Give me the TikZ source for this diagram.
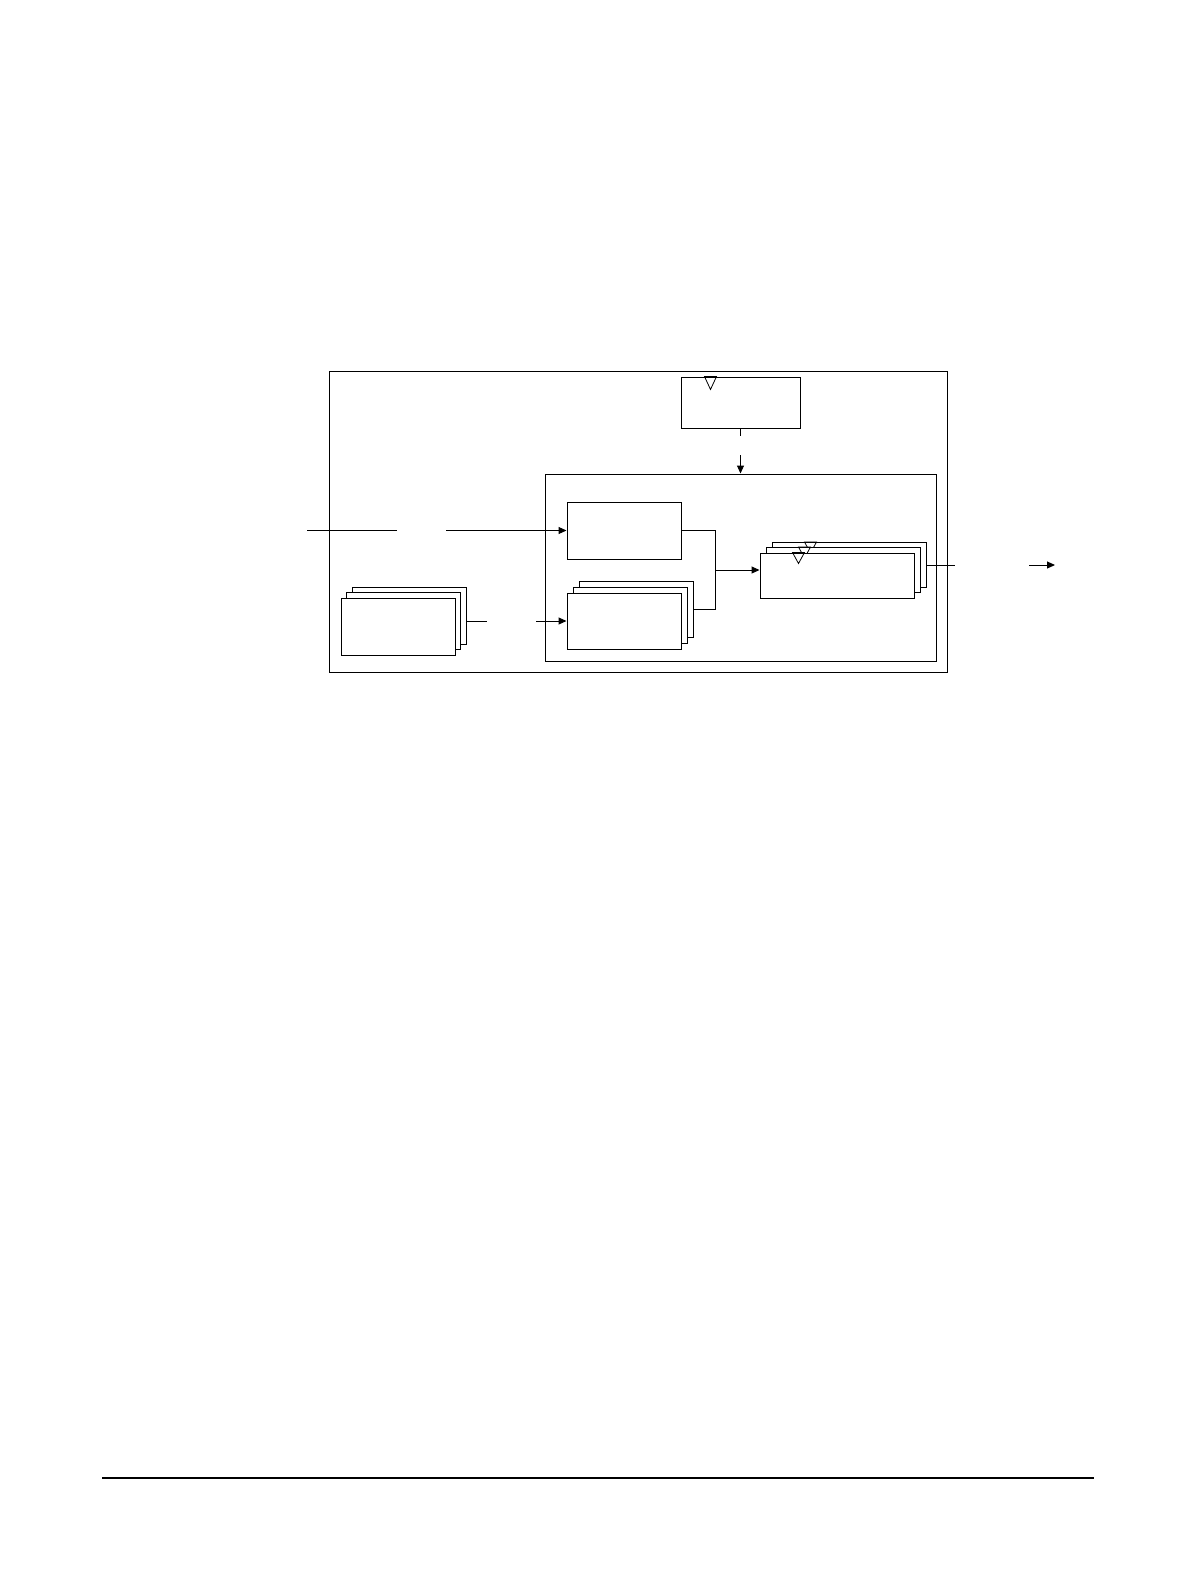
\documentclass[tikz,border=0pt]{standalone}
\usepackage{tikz}
\usetikzlibrary{positioning,
        arrows.meta}

\begin{document}
\begin{tikzpicture}[x=0.5pt,y=-0.5pt,line width=0.5pt,
        blk/.style={draw,fill=white,inner sep=0pt,line width=0.5pt},
        arr/.style={-{Triangle[length=4pt,width=3.5pt]}},
        tri/.style={draw,line width=0.4pt}]
            \useasboundingbox (0,0) rectangle (1191,1585);

            \node [blk,minimum width=309pt,minimum height=150.5pt] (frame) at (638,521.5) {};
            \node [blk,minimum width=59.5pt,minimum height=25.5pt] (clk) at (740.5,402.5) {};
            \draw [tri] ([xshift=12pt]clk.north west) -- ++(12,0) -- ++(-6,13) -- cycle;
            \node [blk,minimum width=195.5pt,minimum height=93.5pt] (core) at (740.5,567.5) {};

            \node [blk,minimum width=57pt,minimum height=28.5pt] (regA) at (624,530.5) {};

            \node [blk,minimum width=57pt,minimum height=28pt] (B3) at (636,609) {};
            \node [blk,minimum width=57pt,minimum height=28pt] (B2) at (630,615) {};
            \node [blk,minimum width=57pt,minimum height=28pt] (B1) at (624,621) {};

            \node [blk,minimum width=57pt,minimum height=28.5pt] (C3) at (409,615.5) {};
            \node [blk,minimum width=57pt,minimum height=28.5pt] (C2) at (403.5,621) {};
            \node [blk,minimum width=57pt,minimum height=28.5pt] (C1) at (398,626.5) {};

            \node [blk,minimum width=77pt,minimum height=22.5pt] (D3) at (849,565) {};
            \draw [tri] ([xshift=16.5pt]D3.north west) -- ++(12,0) -- ++(-6,11) -- cycle;
            \node [blk,minimum width=77pt,minimum height=22.5pt] (D2) at (843,570) {};
            \draw [tri] ([xshift=16.5pt]D2.north west) -- ++(12,0) -- ++(-6,11) -- cycle;
            \node [blk,minimum width=77pt,minimum height=22.5pt] (D1) at (837,575.5) {};
            \draw [tri] ([xshift=16.5pt]D1.north west) -- ++(12,0) -- ++(-6,11) -- cycle;

            \coordinate (inL) at (307,530.5);
            \coordinate (inG1) at (397,530.5);
            \coordinate (inG2) at (446,530.5);
            \coordinate (cbG1) at (487,621);
            \coordinate (cbG2) at (536,621);
            \coordinate (jn) at (715,570);
            \coordinate (ckG1) at (740.5,435.5);
            \coordinate (ckG2) at (740.5,455);
            \coordinate (outG1) at (955,565);
            \coordinate (outG2) at (1029,565);
            \coordinate (out) at (1055,565);
            \coordinate (ftL) at (102,1478);
            \coordinate (ftR) at (1094,1478);

            \draw (inL) -- (inG1);
            \draw [arr] (inG2) -- (regA.west);
            \draw (C3.east |- cbG1) -- (cbG1);
            \draw [arr] (cbG2) -- (B1.west);
            \draw (regA.east) -| (jn);
            \draw (B3.east) -| (jn);
            \draw [arr] (jn) -- (jn -| D1.west);
            \draw (clk.south) -- (ckG1);
            \draw [arr] (ckG2) -- (core.north);
            \draw (D3.east) -- (outG1);
            \draw [arr] (outG2) -- (out);
            \draw [line width=0.7pt] (ftL) -- (ftR);
        \end{tikzpicture}
\end{document}
